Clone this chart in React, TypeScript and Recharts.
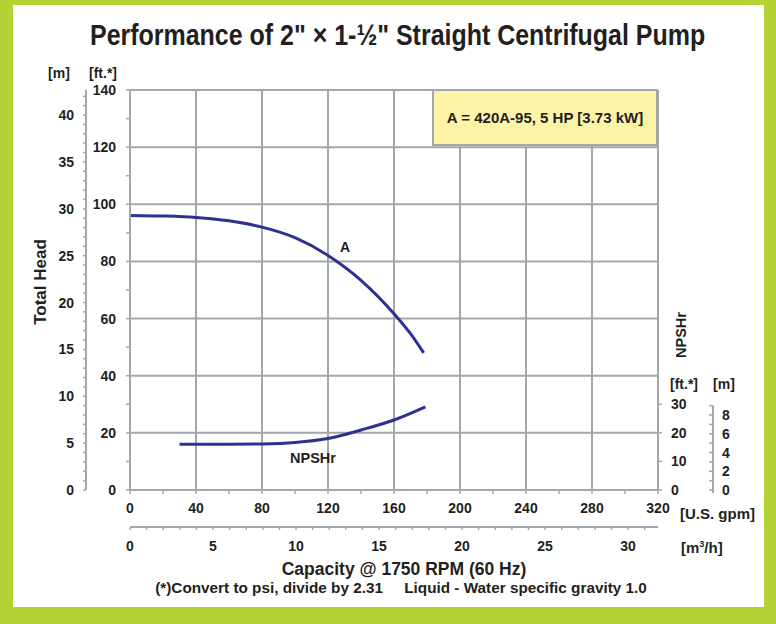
import { ComposedChart, Line, XAxis, YAxis, ReferenceLine } from 'recharts';

// head curve A (ft) and NPSHr (ft) vs capacity (U.S. gpm)
const headGpm = [0, 20, 40, 60, 80, 100, 120, 140, 160, 170, 178];
const headFt = [96.1, 95.9, 95.4, 94.2, 92.0, 88.3, 82.1, 73.4, 61.7, 54.7, 48.0];
const npshGpm = [30, 60, 80, 100, 120, 140, 160, 179];
const npshFt = [16, 16, 16.1, 16.6, 18, 21, 24.5, 29.1];

const gpmTicks = [0, 20, 40, 60, 80, 100, 120, 140, 160, 180, 200, 220, 240, 260, 280, 300, 320];
const gpmGrid = [40, 80, 120, 160, 200, 240, 280, 320];
const m3Ticks = [0, 1, 2, 3, 4, 5, 6, 7, 8, 9, 10, 11, 12, 13, 14, 15, 16, 17, 18, 19, 20, 21, 22, 23, 24, 25, 26, 27, 28, 29, 30, 31];
const ftTicks = [0, 10, 20, 30, 40, 50, 60, 70, 80, 90, 100, 110, 120, 130, 140];
const ftGrid = [20, 40, 60, 80, 100, 120, 140];
const mTicks = Array.from({ length: 43 }, (_, i) => i);
const npshFtTicks = [0, 10, 20, 30];
const npshMTicks = [0, 1, 2, 3, 4, 5, 6, 7, 8, 9];

const FT_MAX = 140;
const M_MAX = FT_MAX / 3.2808;
const M3_MAX = 31.8;

const W = 776;
const H = 624;
const MARGIN = { top: 90, right: 23, bottom: 64, left: 30 };
const PLOT_H = H - MARGIN.top - MARGIN.bottom - 70;
const PX_PER_M = PLOT_H / M_MAX;

const FONT = '"Liberation Sans", Arial, Helvetica, sans-serif';
const INK = '#231f20';
const GRID = '#a3a7ab';
const GREEN = '#b3d335';
const CURVE = '#2e3192';

const headData = headGpm.map((g, i) => ({ gpm: g, ft: headFt[i] }));
const npshData = npshGpm.map((g, i) => ({ gpm: g, ft: npshFt[i] }));
// carrier rows so the m³/h axis gets registered (drawn with no stroke)
const m3Data = m3Ticks.map(t => ({ m3: t, none: null }));

const txt = { fontFamily: FONT, fontWeight: 700, fill: INK } as const;

const every = (step: number, anchor: 'start' | 'middle' | 'end', vertical: boolean) => (props: any) => {
  const { x, y, payload } = props;
  if (payload.value % step !== 0) return <g />;
  return (
    <text x={x} y={y} dy={vertical ? '0.71em' : 5} textAnchor={anchor} fontSize={14} {...txt}>
      {payload.value}
    </text>
  );
};

// short right-hand metre scale for NPSHr (line only from 0 to 9 m)
const NpshMTick = (props: any) => {
  const { x, y, payload } = props;
  const v = payload.value;
  return (
    <g>
      {v < 9 && <line x1={x} x2={x} y1={y + (v === 0 ? 3 : 0)} y2={y - PX_PER_M} stroke={GRID} strokeWidth={2} />}
      <line x1={x - 4} x2={x} y1={y} y2={y} stroke={GRID} strokeWidth={1.5} />
      {v % 2 === 0 && v <= 8 && (
        <text x={x + 9} y={y} dy={5} textAnchor="start" fontSize={14} {...txt}>{v}</text>
      )}
    </g>
  );
};

const Label = ({ x, y, size = 14, rotate = false, left = false, children }: any) => (
  <div
    style={{
      position: 'absolute',
      left: x,
      top: y,
      transform: `translate(${left ? '0' : '-50%'}, -50%)${rotate ? ' rotate(-90deg)' : ''}`,
      fontFamily: FONT,
      fontWeight: 700,
      fontSize: size,
      color: INK,
      whiteSpace: 'nowrap',
      lineHeight: 1,
    }}
  >
    {children}
  </div>
);

export default function App() {
  return (
    <div style={{ position: 'absolute', left: 0, top: 0, width: W, height: H, background: GREEN, overflow: 'hidden' }}>
      <div style={{ position: 'absolute', left: 13, top: 5, width: 751, height: 602, background: '#fff' }} />
      {/* condensed headline: regular bold face squeezed horizontally */}
      <div
        style={{
          position: 'absolute',
          left: 90,
          top: 20,
          height: 30,
          fontFamily: FONT,
          fontWeight: 700,
          fontSize: 30,
          lineHeight: '30px',
          color: INK,
          whiteSpace: 'nowrap',
          transform: 'scaleX(0.832)',
          transformOrigin: '0 50%',
        }}
      >
        Performance of 2" × 1-½" Straight Centrifugal Pump
      </div>
      <div style={{ position: 'absolute', left: 0, top: 0 }}>
        <ComposedChart width={W} height={H} margin={MARGIN}>
          <XAxis
            xAxisId="gpm"
            dataKey="gpm"
            type="number"
            domain={[0, 320]}
            ticks={gpmTicks}
            allowDataOverflow
            height={37}
            axisLine={{ stroke: GRID, strokeWidth: 2 }}
            tickLine={{ stroke: GRID, strokeWidth: 1.5 }}
            tickSize={4}
            tickMargin={9}
            tick={every(40, 'middle', true)}
            interval={0}
          />
          <XAxis
            xAxisId="m3"
            dataKey="m3"
            type="number"
            domain={[0, M3_MAX]}
            ticks={m3Ticks}
            allowDataOverflow
            height={33}
            axisLine={{ stroke: GRID, strokeWidth: 2 }}
            tickLine={{ stroke: GRID, strokeWidth: 1.5 }}
            tickSize={3}
            tickMargin={11}
            tick={every(5, 'middle', true)}
            interval={0}
          />
          <YAxis
            yAxisId="ft"
            type="number"
            orientation="left"
            domain={[0, FT_MAX]}
            ticks={ftTicks}
            allowDataOverflow
            width={44}
            axisLine={{ stroke: GRID, strokeWidth: 2 }}
            tickLine={{ stroke: GRID, strokeWidth: 1.5 }}
            tickSize={4}
            tickMargin={10}
            tick={every(20, 'end', false)}
            interval={0}
          />
          <YAxis
            yAxisId="mL"
            type="number"
            orientation="left"
            domain={[0, M_MAX]}
            ticks={mTicks}
            allowDataOverflow
            width={56}
            axisLine={{ stroke: GRID, strokeWidth: 2 }}
            tickLine={{ stroke: GRID, strokeWidth: 1.5 }}
            tickSize={3}
            tickMargin={9}
            tick={every(5, 'end', false)}
            interval={0}
          />
          <YAxis
            yAxisId="npshFt"
            type="number"
            orientation="right"
            domain={[0, FT_MAX]}
            ticks={npshFtTicks}
            allowDataOverflow
            width={55}
            axisLine={{ stroke: GRID, strokeWidth: 2 }}
            tickLine={{ stroke: GRID, strokeWidth: 1.5 }}
            tickSize={4}
            tickMargin={9}
            tick={every(10, 'start', false)}
            interval={0}
          />
          <YAxis
            yAxisId="npshM"
            type="number"
            orientation="right"
            domain={[0, M_MAX]}
            ticks={npshMTicks}
            allowDataOverflow
            width={40}
            axisLine={false}
            tickLine={false}
            tickSize={0}
            tickMargin={0}
            tick={NpshMTick}
            interval={0}
          />
          {ftGrid.map(v => (
            <ReferenceLine key={'h' + v} xAxisId="gpm" yAxisId="ft" y={v} stroke={GRID} strokeWidth={2} />
          ))}
          {gpmGrid.map(v => (
            <ReferenceLine key={'v' + v} xAxisId="gpm" yAxisId="ft" x={v} stroke={GRID} strokeWidth={2} />
          ))}
          <Line
            data={m3Data}
            xAxisId="m3"
            yAxisId="ft"
            dataKey="none"
            stroke="none"
            dot={false}
            activeDot={false}
            legendType="none"
            isAnimationActive={false}
          />
          <Line
            data={headData}
            xAxisId="gpm"
            yAxisId="ft"
            dataKey="ft"
            type="monotone"
            stroke={CURVE}
            strokeWidth={3}
            dot={false}
            activeDot={false}
            isAnimationActive={false}
          />
          <Line
            data={npshData}
            xAxisId="gpm"
            yAxisId="ft"
            dataKey="ft"
            type="monotone"
            stroke={CURVE}
            strokeWidth={3}
            dot={false}
            activeDot={false}
            isAnimationActive={false}
          />
        </ComposedChart>
      </div>

      <div
        style={{
          position: 'absolute',
          left: 432,
          top: 89,
          width: 226,
          height: 57,
          boxSizing: 'border-box',
          background: '#fcf3a6',
          border: `2px solid ${GRID}`,
          display: 'flex',
          alignItems: 'center',
          justifyContent: 'center',
          fontFamily: FONT,
          fontWeight: 700,
          fontSize: 15,
          color: INK,
        }}
      >
        A = 420A-95, 5 HP [3.73 kW]
      </div>

      <Label x={59} y={73}>[m]</Label>
      <Label x={103} y={73}>[ft.*]</Label>
      <Label x={40} y={282} size={17} rotate>Total Head</Label>
      <Label x={681} y={335} size={14.5} rotate>NPSHr</Label>
      <Label x={684} y={384}>[ft.*]</Label>
      <Label x={724} y={384}>[m]</Label>
      <Label x={345} y={247}>A</Label>
      <Label x={313} y={458} size={14.5}>NPSHr</Label>
      <Label x={680} y={513} size={15} left>[U.S. gpm]</Label>
      <Label x={681} y={547} size={15} left>
        [m<sup style={{ fontSize: 9, verticalAlign: 'top', lineHeight: 1 }}>3</sup>/h]
      </Label>
      <Label x={404} y={570} size={17.5}>Capacity @ 1750 RPM (60 Hz)</Label>
      <Label x={401} y={588} size={15.3}>
        (*)Convert to psi, divide by 2.31&nbsp;&nbsp;&nbsp;&nbsp;&nbsp;Liquid - Water specific gravity 1.0
      </Label>
    </div>
  );
}
